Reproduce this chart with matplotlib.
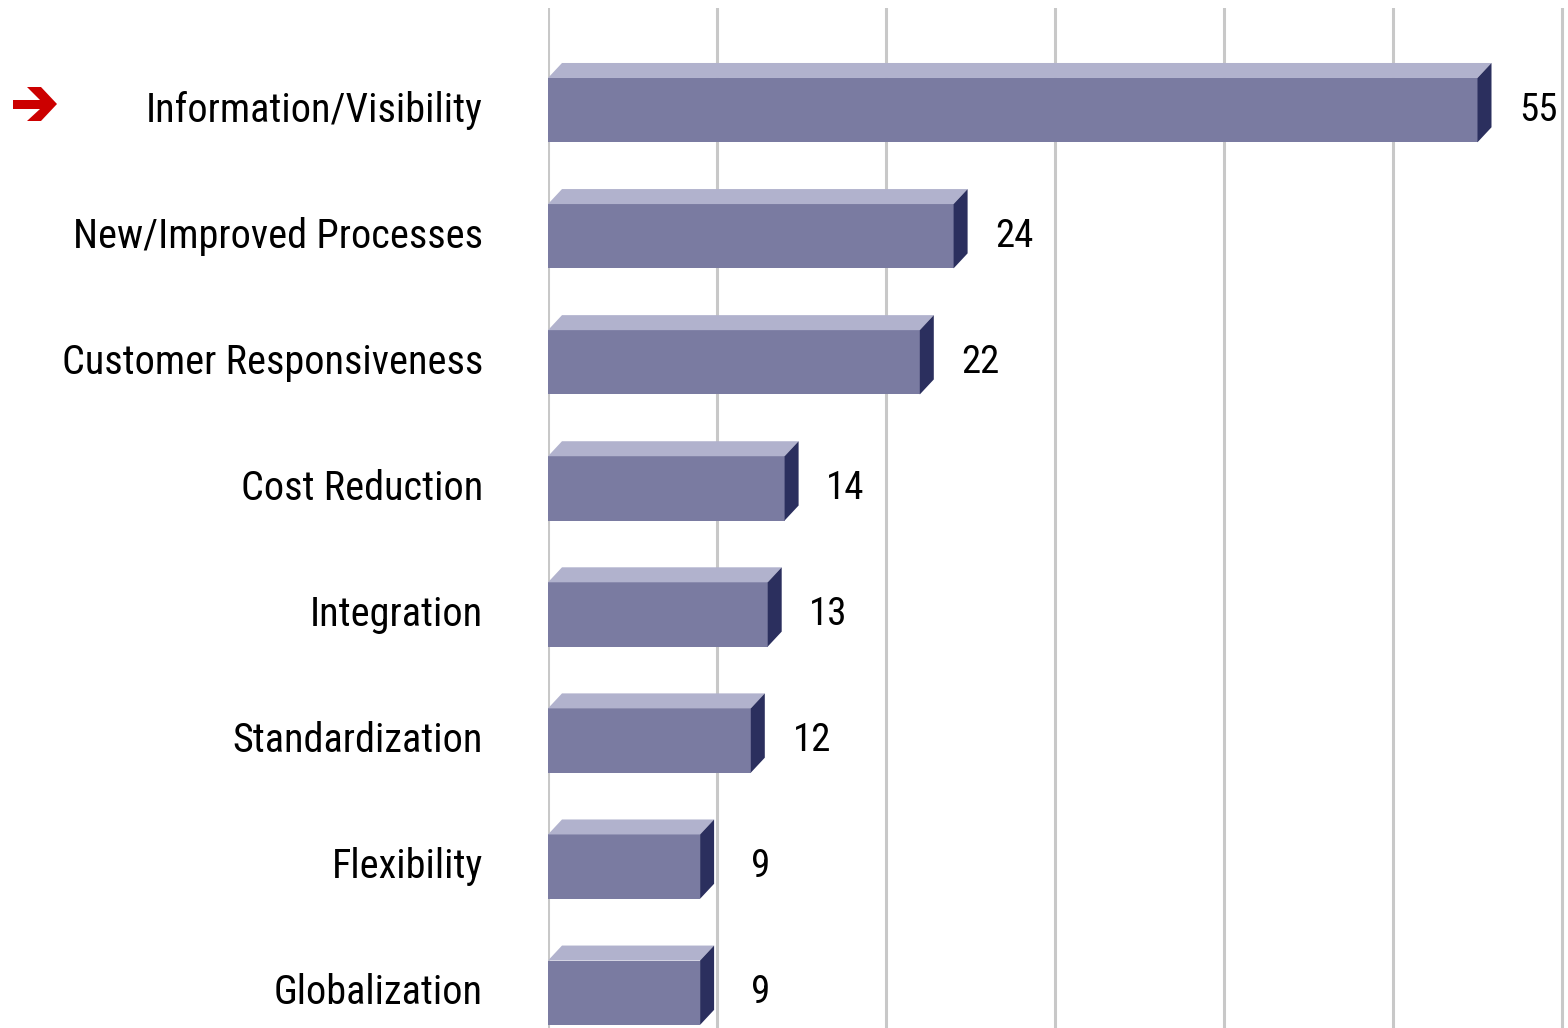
import matplotlib
matplotlib.use("Agg")
import matplotlib.pyplot as plt
from matplotlib import font_manager
from matplotlib.patches import Polygon

categories = ["Information/Visibility", "New/Improved Processes", "Customer Responsiveness",
              "Cost Reduction", "Integration", "Standardization", "Flexibility", "Globalization"]
values = [55, 24, 22, 14, 13, 12, 9, 9]
grid_ticks = [0, 10, 20, 30, 40, 50, 60]

front_col = "#7a7ba1"
top_col = "#b1b2cd"
side_col = "#2b2f5e"
grid_col = "#c8c8c8"

# pick the narrowest font that is installed
label_font = "DejaVu Sans"
for name in ["Liberation Sans Narrow", "Roboto Condensed", "Roboto"]:
    try:
        font_manager.findfont(name, fallback_to_default=False)
        label_font = name
        break
    except Exception:
        pass

W, H = 1568, 1028
fig = plt.figure(figsize=(W / 100, H / 100), dpi=100)
ax = fig.add_axes([548 / W, 0, (W - 548) / W, 1020 / H])
ax.set_xlim(0, (W - 548) / 16.9)
ax.set_ylim(7.28, -0.81)
ax.axis("off")

for g in grid_ticks:
    ax.axvline(g, color=grid_col, lw=2.2, zorder=0)

bar_h = 0.51
dx = 14 / 16.9   # depth in x units
dy = 15 / 126.1  # depth in y units

ax.barh(range(len(values)), values, height=bar_h, color=front_col, zorder=2)
for i, v in enumerate(values):
    top = i - bar_h / 2
    bot = i + bar_h / 2
    ax.add_patch(Polygon([(0, top), (dx, top - dy), (v + dx, top - dy), (v, top)],
                         closed=True, color=top_col, lw=0, zorder=2))
    ax.add_patch(Polygon([(v, top), (v + dx, top - dy), (v + dx, bot - dy), (v, bot)],
                         closed=True, color=side_col, lw=0, zorder=2))
    ax.text(v + 3.6, i, str(v), ha="center", va="center", fontsize=28,
            family=label_font, color="black")
    ax.text(-65 / 16.9, i, categories[i], ha="right", va="center", fontsize=29,
            family=label_font, color="black")

# red marker arrow next to the first category (figure pixel coords, y from top)
arrow_px = [(13, 100), (40, 100), (27, 87), (41, 87), (57, 104), (41, 121),
            (27, 121), (40, 109), (13, 109)]
fig.patches.append(Polygon([(x / W, 1 - y / H) for x, y in arrow_px], closed=True,
                           color="#cc0000", lw=0, transform=fig.transFigure))

fig.savefig("out.png", dpi=100)
